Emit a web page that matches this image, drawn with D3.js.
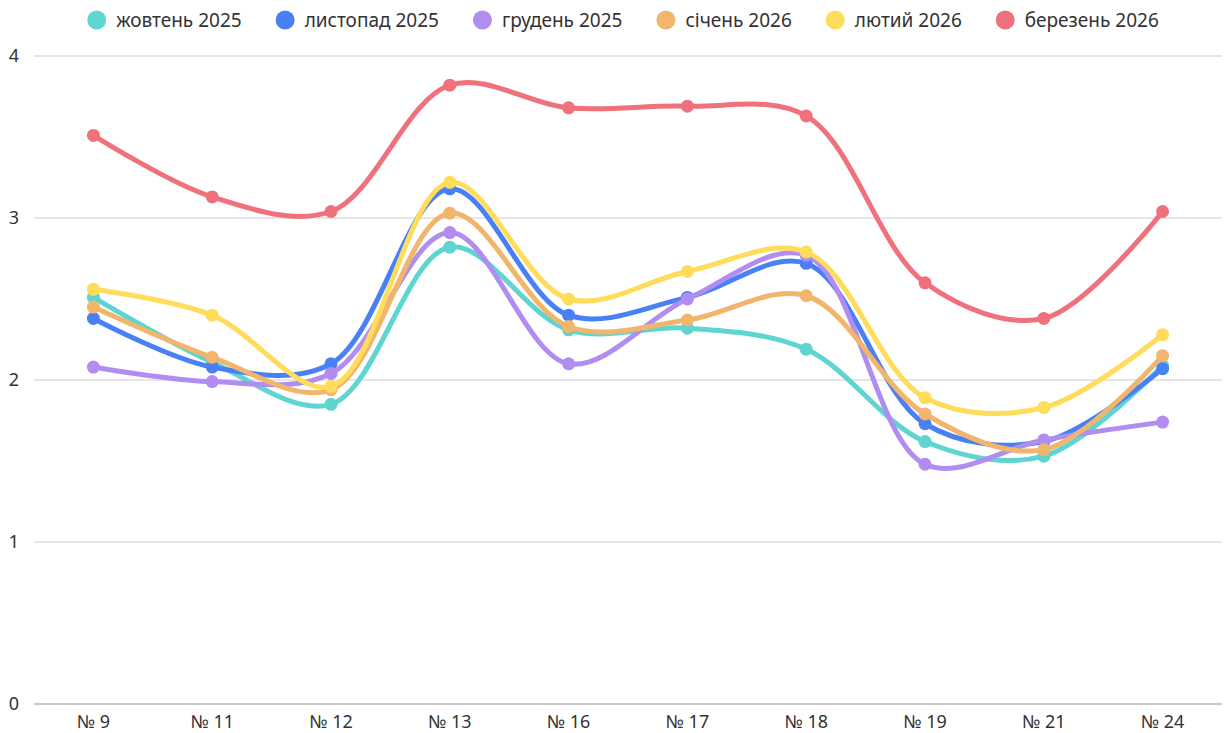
<!DOCTYPE html>
<html><head><meta charset="utf-8">
<script src="https://cdn.jsdelivr.net/npm/d3@7"></script>
<style>body{margin:0;background:#fff;font-family:"Noto Sans",sans-serif;}</style>
</head><body><svg id="c" width="1230" height="733"></svg>
<script>
const categories = ["№ 9","№ 11","№ 12","№ 13","№ 16","№ 17","№ 18","№ 19","№ 21","№ 24"];
const seriesNames = ["жовтень 2025","листопад 2025","грудень 2025","січень 2026","лютий 2026","березень 2026"];
const colors = ["#5ed5d0","#4a80f5","#b18df1","#f1b56b","#ffdc59","#ef717c"];
const oct2025 = [2.51,2.11,1.85,2.82,2.31,2.32,2.19,1.62,1.53,2.09];
const nov2025 = [2.38,2.08,2.10,3.18,2.40,2.51,2.72,1.73,1.62,2.07];
const dec2025 = [2.08,1.99,2.04,2.91,2.10,2.50,2.77,1.48,1.63,1.74];
const jan2026 = [2.45,2.14,1.94,3.03,2.33,2.37,2.52,1.79,1.57,2.15];
const feb2026 = [2.56,2.40,1.96,3.22,2.50,2.67,2.79,1.89,1.83,2.28];
const mar2026 = [3.51,3.13,3.04,3.82,3.68,3.69,3.63,2.60,2.38,3.04];
const yTicks = [0,1,2,3,4];
const seriesValues = [oct2025,nov2025,dec2025,jan2026,feb2026,mar2026];

const svg = d3.select("#c");
const pl = 34, pr = 1222, pt = 56, pb = 704;
const x = d3.scaleBand().domain(categories).range([pl,pr]);
const y = d3.scaleLinear().domain([0,4]).range([pb,pt]);

svg.append("g").selectAll("line").data(yTicks).join("line")
  .attr("x1",pl).attr("x2",pr)
  .attr("y1",d=>y(d)).attr("y2",d=>y(d))
  .attr("stroke",d=>d===0?"#c8c8c8":"#dedede").attr("stroke-width",d=>d===0?2:1.5);

svg.append("g").selectAll("text").data(yTicks).join("text")
  .attr("x",19).attr("y",d=>y(d)).attr("dy","0.35em")
  .attr("text-anchor","end").attr("font-size",18).attr("fill","#333")
  .text(d=>d);

svg.append("g").selectAll("text").data(categories).join("text")
  .attr("x",d=>x(d)+x.bandwidth()/2).attr("y",728)
  .attr("text-anchor","middle").attr("font-size",18).attr("fill","#333")
  .text(d=>d);

const line = d3.line()
  .x((d,i)=>x(categories[i])+x.bandwidth()/2)
  .y(d=>y(d))
  .curve(d3.curveCatmullRom.alpha(0.5));

seriesValues.forEach((vals,si)=>{
  const g = svg.append("g");
  g.append("path").datum(vals).attr("d",line)
    .attr("fill","none").attr("stroke",colors[si]).attr("stroke-width",5)
    .attr("stroke-linejoin","round").attr("stroke-linecap","round");
  g.selectAll("circle").data(vals).join("circle")
    .attr("cx",(d,i)=>x(categories[i])+x.bandwidth()/2)
    .attr("cy",d=>y(d)).attr("r",6.5).attr("fill",colors[si]);
});

const lg = svg.append("g");
let cx = 0;
seriesNames.forEach((n,i)=>{
  const it = lg.append("g");
  it.append("circle").attr("cx",9.5).attr("cy",20).attr("r",9.5).attr("fill",colors[i]);
  const t = it.append("text").attr("x",29).attr("y",20).attr("dy","0.35em")
    .attr("font-size",19).attr("fill","#333").text(n);
  const w = t.node().getComputedTextLength();
  it.attr("transform",`translate(${cx},0)`);
  cx += 29 + w + 34;
});
const total = cx - 34;
lg.attr("transform",`translate(${623-total/2},0)`);
</script></body></html>
